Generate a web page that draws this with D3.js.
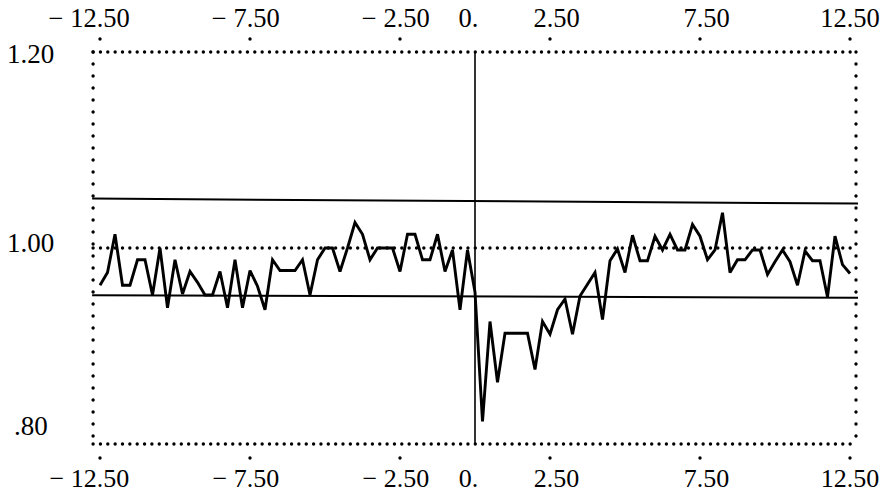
<!DOCTYPE html>
<html>
<head>
<meta charset="utf-8">
<script src="https://cdn.jsdelivr.net/npm/d3@7/dist/d3.min.js"></script>
<style>
  html, body { margin: 0; padding: 0; background: #fff; }
  svg { display: block; }
  text { font-family: "Liberation Serif", "Times New Roman", serif; fill: #000; }
</style>
</head>
<body>
<svg id="chart" width="882" height="494"></svg>
<script>
// ---- data ----
const xTicks = [-12.5, -7.5, -2.5, 0, 2.5, 7.5, 12.5];
const xTickLabels = ["\u2212 12.50", "\u2212 7.50", "\u2212 2.50", "0.", "2.50", "7.50", "12.50"];
const yTicks = [1.2, 1.0, 0.8];
const yTickLabels = ["1.20", "1.00", ".80"];
const xStart = -12.5, xStep = 0.25;
const values = [
  0.962, 0.975, 1.014, 0.962, 0.962, 0.988, 0.988, 0.952, 1.000, 0.939,
  0.988, 0.953, 0.976, 0.965, 0.952, 0.952, 0.976, 0.939, 0.988, 0.939,
  0.977, 0.961, 0.937, 0.988, 0.977, 0.977, 0.977, 0.988, 0.952, 0.988,
  1.000, 1.000, 0.976, 1.000, 1.026, 1.014, 0.988, 1.000, 1.000, 1.000,
  0.976, 1.014, 1.014, 0.988, 0.988, 1.014, 0.976, 0.998, 0.937, 0.998,
  0.955, 0.823, 0.925, 0.863, 0.913, 0.913, 0.913, 0.913, 0.876, 0.925,
  0.912, 0.937, 0.948, 0.912, 0.951, 0.963, 0.975, 0.927, 0.987, 0.999,
  0.975, 1.013, 0.987, 0.987, 1.012, 0.998, 1.014, 0.998, 0.998, 1.024,
  1.012, 0.988, 0.998, 1.036, 0.975, 0.988, 0.988, 0.998, 0.998, 0.973,
  0.986, 0.998, 0.986, 0.962, 0.997, 0.987, 0.987, 0.950, 1.012, 0.983,
  0.974
];
const frameX = [-12.73, 12.70];
const frameY = [0.8, 1.2];
const refLevel = 1.0;
const upperBand = [1.0504, 1.0453];   // left, right ends
const lowerBand = [0.9517, 0.9493];

// ---- scales ----
const x = d3.scaleLinear().domain([-12.5, 12.5]).range([100, 850]);
const y = d3.scaleLinear().domain([0.8, 1.2]).range([444, 52]);

const svg = d3.select("#chart");
svg.append("rect").attr("width", 882).attr("height", 494).attr("fill", "#fff");

const dotH = { stroke: "#000", "stroke-width": 3.4, "stroke-linecap": "round", "stroke-dasharray": "0 7.35" };
const dotV = { stroke: "#000", "stroke-width": 3.4, "stroke-linecap": "round", "stroke-dasharray": "0 12" };
function seg(x1, y1, x2, y2, style) {
  const l = svg.append("line").attr("x1", x1).attr("y1", y1).attr("x2", x2).attr("y2", y2);
  Object.entries(style).forEach(([k, v]) => l.attr(k, v));
  return l;
}

// dotted frame
seg(x(frameX[0]), y(frameY[1]), x(frameX[1]), y(frameY[1]), dotH);
seg(x(frameX[0]), y(frameY[0]), x(frameX[1]), y(frameY[0]), dotH);
seg(x(frameX[0]), y(frameY[1]), x(frameX[0]), y(frameY[0]), dotV);
seg(x(frameX[1]), y(frameY[1]), x(frameX[1]), y(frameY[0]), dotV);
// dotted reference at 1.00
seg(x(frameX[0]), y(refLevel), x(frameX[1]), y(refLevel), dotH);

// solid band lines
const solid = { stroke: "#000", "stroke-width": 2 };
seg(x(frameX[0]) - 1, y(upperBand[0]), x(frameX[1]) + 2, y(upperBand[1]), solid);
seg(x(frameX[0]) - 1, y(lowerBand[0]), x(frameX[1]) + 2, y(lowerBand[1]), solid);

// vertical line at 0
seg(x(0), y(frameY[1]), x(0), y(frameY[0]), { stroke: "#000", "stroke-width": 1.6 });

// tick dots (top and bottom), skip 0
xTicks.forEach(t => {
  if (t === 0) return;
  svg.append("circle").attr("cx", x(t)).attr("cy", y(frameY[1]) - 13).attr("r", 1.7).attr("fill", "#000");
  svg.append("circle").attr("cx", x(t)).attr("cy", y(frameY[0]) + 14).attr("r", 1.7).attr("fill", "#000");
});

// x tick labels, aligned on the decimal point
function xLabel(t, label, baseline, fs) {
  const i = label.indexOf(".");
  const left = label.slice(0, i), right = label.slice(i);
  const px = x(t) - 3.3;
  svg.append("text").attr("x", px).attr("y", baseline).attr("text-anchor", "end")
    .attr("font-size", fs).text(left);
  svg.append("text").attr("x", px).attr("y", baseline).attr("text-anchor", "start")
    .attr("font-size", fs).text(right);
}
xTicks.forEach((t, i) => {
  xLabel(t, xTickLabels[i], 27, 26.5);
  xLabel(t, xTickLabels[i], 487, 26);
});

// y tick labels
const yOff = [11, 4, -9];
const yLeft = [7, 7, 14];
yTicks.forEach((v, i) => {
  svg.append("text").attr("x", yLeft[i]).attr("y", y(v) + yOff[i])
    .attr("text-anchor", "start").attr("font-size", 27).text(yTickLabels[i]);
});

// data line
const pts = values.map((v, i) => [xStart + i * xStep, v]);
const line = d3.line().x(d => x(d[0])).y(d => y(d[1]));
svg.append("path").datum(pts).attr("d", line)
  .attr("fill", "none").attr("stroke", "#000").attr("stroke-width", 2.9)
  .attr("stroke-linejoin", "miter").attr("stroke-miterlimit", 3);
</script>
</body>
</html>
